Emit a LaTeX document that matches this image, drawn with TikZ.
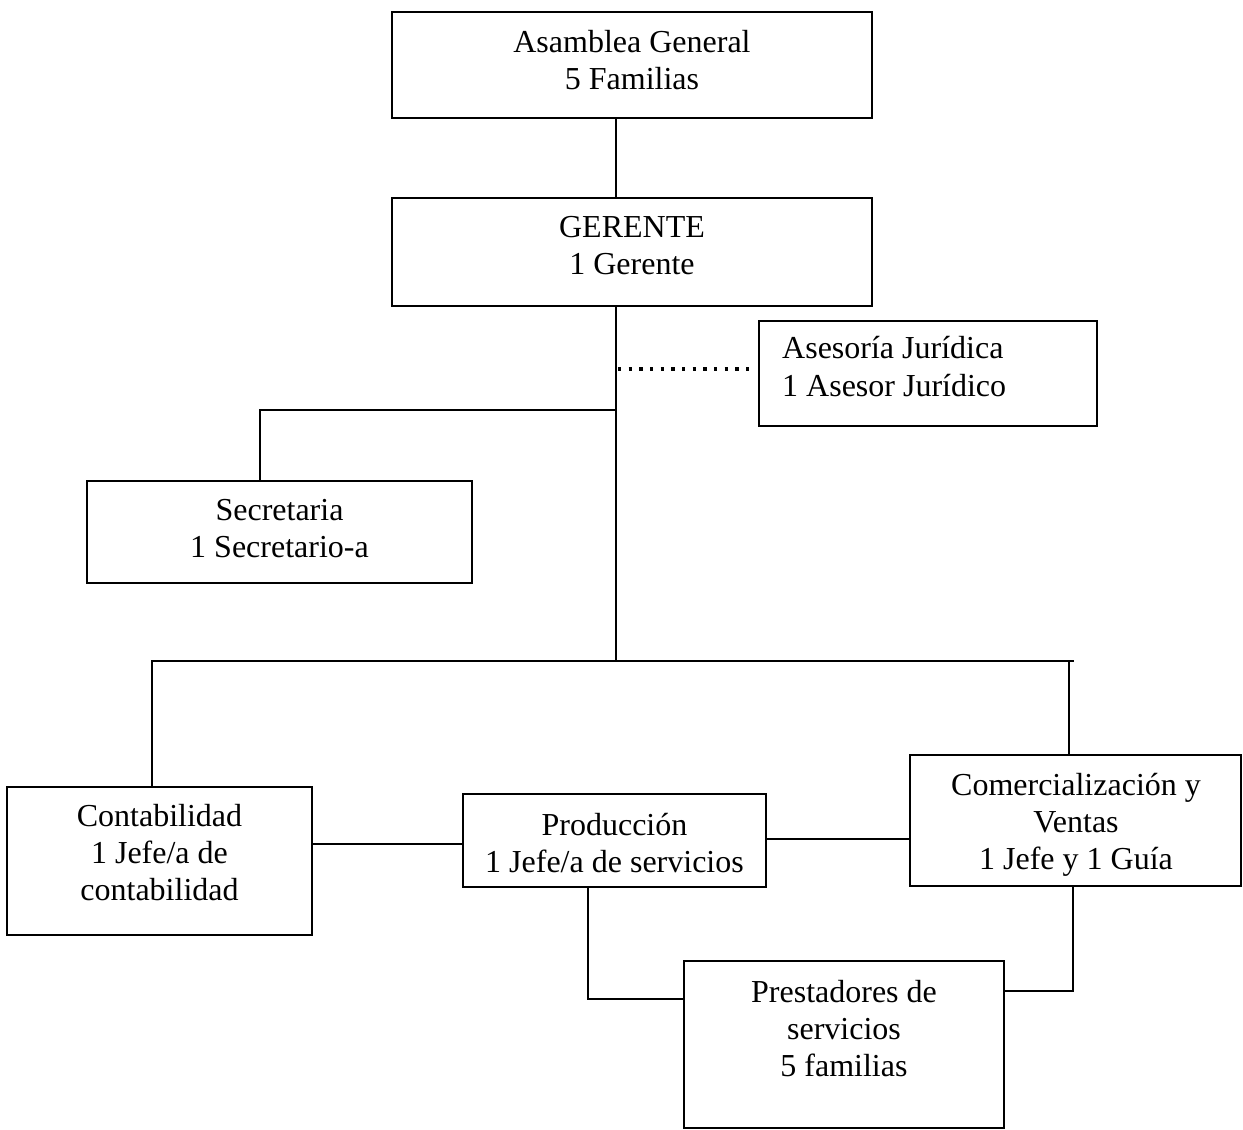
\documentclass[tikz,border=0pt]{standalone}
\usepackage{fontspec}
\setmainfont{Liberation Serif}
\begin{document}
\begin{tikzpicture}[x=1pt,y=-1pt,
  box/.style={draw, line width=1.6pt, rectangle, inner sep=0pt},
  txt/.style={inner sep=0pt, align=center, anchor=north, font=\fontsize{32}{37}\selectfont},
  txtl/.style={inner sep=0pt, align=left, anchor=north west, font=\fontsize{32}{38.5}\selectfont},
  conn/.style={line width=1.6pt},
  dotline/.style={line width=3.2pt, dash pattern=on 3.3pt off 7.37pt}]
\fill[white] (0,0) rectangle (1243,1130);
\useasboundingbox (0,0) rectangle (1243,1130);

% boxes
\node[box, minimum width=480pt, minimum height=106pt] (asam) at (632,65) {};
\node[box, minimum width=480pt, minimum height=108pt] (ger) at (632,252) {};
\node[box, minimum width=338pt, minimum height=105pt] (ases) at (928,373.5) {};
\node[box, minimum width=385pt, minimum height=102pt] (secr) at (279.5,532) {};
\node[box, minimum width=305pt, minimum height=148pt] (cont) at (159.5,861) {};
\node[box, minimum width=303pt, minimum height=93pt] (prod) at (614.5,840.5) {};
\node[box, minimum width=331pt, minimum height=131pt] (comer) at (1075.5,820.5) {};
\node[box, minimum width=320pt, minimum height=167pt] (prest) at (844,1044.5) {};

% texts
\node[txt] (asamT) at (632,30.5) {Asamblea General\\5 Familias};
\node[txt] (gerT) at (632,216) {GERENTE\\1 Gerente};
\node[txtl] (asesT) at (782,336) {Asesoría Jurídica\\1 Asesor Jurídico};
\node[txt] (secrT) at (279.5,499) {Secretaria\\1 Secretario-a};
\node[txt] (contT) at (159.5,804.5) {Contabilidad\\1 Jefe/a de\\contabilidad};
\node[txt] (prodT) at (614.5,813) {Producción\\1 Jefe/a de servicios};
\node[txt] (comerT) at (1076,773) {Comercialización y\\Ventas\\1 Jefe y 1 Guía};
\node[txt] (prestT) at (844,980) {Prestadores de\\servicios\\5 familias};

% connector coordinates
\coordinate (spine) at (616,0);
\coordinate (secJ) at (616,410);
\coordinate (secX) at (260,410);
\coordinate (bus) at (616,661);
\coordinate (busL) at (152,661);
\coordinate (busR) at (1074,661);
\coordinate (busC) at (1069,661);
\coordinate (dotS) at (618,369);
\coordinate (dotE) at (749.3,369);
\coordinate (cp) at (400,844);
\coordinate (pc) at (840,839);
\coordinate (pl) at (588,999);
\coordinate (cr) at (1073,991);

% connectors
\draw[conn] (asam.south -| spine) -- (ger.north -| spine);
\draw[conn] (ger.south -| spine) -- (bus);
\draw[dotline] (dotS) -- (dotE);
\draw[conn] (secJ) -- (secX) -- (secr.north -| secX);
\draw[conn] (cont.north -| busL) -- (busL) -- (busR);
\draw[conn] (busC) -- (comer.north -| busC);
\draw[conn] (cont.east |- cp) -- (prod.west |- cp);
\draw[conn] (prod.east |- pc) -- (comer.west |- pc);
\draw[conn] (prod.south -| pl) -- (pl) -- (prest.west |- pl);
\draw[conn] (comer.south -| cr) -- (cr) -- (prest.east |- cr);
\end{tikzpicture}
\end{document}
